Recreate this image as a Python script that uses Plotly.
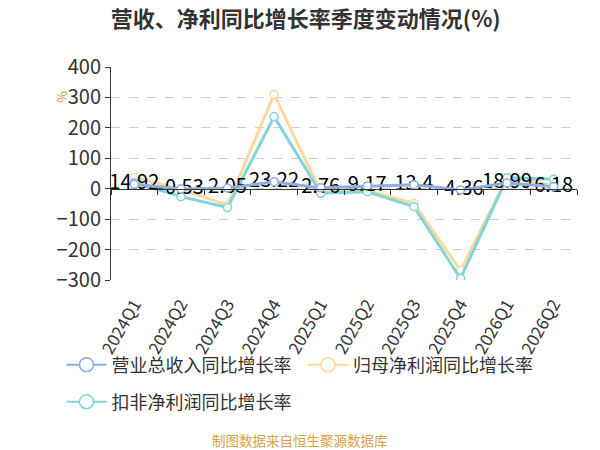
"""Quarterly YoY growth: revenue, net profit, deducted net profit."""

import plotly.graph_objects as go

QUARTERS = ["2024Q1", "2024Q2", "2024Q3", "2024Q4", "2025Q1",
            "2025Q2", "2025Q3", "2025Q4", "2026Q1", "2026Q2"]
REVENUE_YOY = [14.92, -0.53, 2.05, 23.22, 2.76, 9.17, 13.4, -4.36, 18.99, 6.18]
NET_PROFIT_YOY = [37, -1, -54, 310, -10, -6, -48, -269, 36, 12]
DEDUCTED_YOY = [20, -26, -62, 237, -15, -10, -59, -295, 36, 31]

SERIES_NAMES = ["营业总收入同比增长率", "归母净利润同比增长率", "扣非净利润同比增长率"]

Y_MIN, Y_MAX = -300, 400

BLUE = "#8eaedf"
ORANGE = "#fdd89c"
TEAL = "#7fd6d8"
FONT = "Noto Sans CJK SC"

# the page body has an 8px margin, so the figure is drawn 8px smaller
FIG_W, FIG_H = 592, 442


def line_trace(y, color, xaxis="x"):
    return go.Scatter(
        x=QUARTERS,
        y=y,
        mode="lines+markers",
        xaxis=xaxis,
        showlegend=False,
        line=dict(color=color, width=3),
        marker=dict(symbol="circle", size=8, color="white",
                    line=dict(color=color, width=1.5)),
    )


def legend_trace(name, color, legend):
    # legend-only entry with a larger open circle, like the original legend icon
    return go.Scatter(
        x=[None],
        y=[None],
        name=name,
        legend=legend,
        mode="lines+markers",
        line=dict(color=color, width=2),
        marker=dict(symbol="circle", size=14, color="white",
                    line=dict(color=color, width=1.5)),
    )


fig = go.Figure()
fig.add_trace(line_trace(REVENUE_YOY, BLUE, xaxis="x2"))
fig.add_trace(line_trace(NET_PROFIT_YOY, ORANGE))
fig.add_trace(line_trace(DEDUCTED_YOY, TEAL))
# value labels on the revenue series, drawn last so they sit on top
fig.add_trace(
    go.Scatter(
        x=QUARTERS,
        y=REVENUE_YOY,
        mode="text",
        text=[f"{v:g}" for v in REVENUE_YOY],
        textposition="middle center",
        textfont=dict(family=FONT, size=20, color="#000000"),
        showlegend=False,
        hoverinfo="skip",
    )
)
# one legend box per entry, placed like the two-row legend of the original
fig.add_trace(legend_trace(SERIES_NAMES[0], BLUE, "legend"))
fig.add_trace(legend_trace(SERIES_NAMES[1], ORANGE, "legend2"))
fig.add_trace(legend_trace(SERIES_NAMES[2], TEAL, "legend3"))

legend_style = dict(
    orientation="h",
    xref="container",
    yref="container",
    xanchor="left",
    yanchor="middle",
    font=dict(size=18, color="#333333"),
    itemwidth=40,
    bgcolor="rgba(0,0,0,0)",
)

fig.update_layout(
    width=FIG_W,
    height=FIG_H,
    plot_bgcolor="white",
    paper_bgcolor="white",
    margin=dict(l=103, r=23, t=59, b=170),
    font=dict(family=FONT, color="#333333"),
    title=dict(
        text="<b>营收、净利同比增长率季度变动情况(%)</b>",
        x=0.503,
        xanchor="center",
        y=1 - 4 / FIG_H,
        yanchor="top",
        font=dict(size=22, color="#333333", family=FONT),
    ),
    xaxis=dict(
        type="category",
        showline=False,
        showgrid=False,
        ticks="",
        tickangle=-60,
        tickfont=dict(size=17, color="#333333"),
        ticklabelstandoff=10,
        range=[-0.5, len(QUARTERS) - 0.5],
        automargin=False,
    ),
    xaxis2=dict(
        type="category",
        matches="x",
        overlaying="x",
        anchor="free",
        position=(0 - Y_MIN) / (Y_MAX - Y_MIN),
        showline=True,
        linecolor="#333333",
        linewidth=1,
        ticks="outside",
        ticklen=5,
        tickcolor="#333333",
        tickson="boundaries",
        showticklabels=False,
        showgrid=False,
    ),
    yaxis=dict(
        range=[Y_MIN, Y_MAX],
        dtick=100,
        showline=True,
        linecolor="#333333",
        ticks="outside",
        ticklen=5,
        tickcolor="#333333",
        tickfont=dict(size=20, color="#333333"),
        gridcolor="#cccccc",
        griddash="dash",
        zeroline=False,
        automargin=False,
    ),
    legend=dict(legend_style, x=53.5 / FIG_W, y=1 - 357 / FIG_H),
    legend2=dict(legend_style, x=295 / FIG_W, y=1 - 357 / FIG_H),
    legend3=dict(legend_style, x=53.5 / FIG_W, y=1 - 394 / FIG_H),
    annotations=[
        dict(
            text="%",
            xref="paper",
            yref="paper",
            x=-0.105,
            y=0.86,
            xanchor="center",
            yanchor="middle",
            showarrow=False,
            textangle=-90,
            font=dict(size=13, color="#d08a3a"),
        ),
        dict(
            text="制图数据来自恒生聚源数据库",
            xref="paper",
            yref="paper",
            x=0.406,
            y=-0.751,
            xanchor="center",
            yanchor="middle",
            showarrow=False,
            font=dict(size=13.5, color="#d4a447"),
        ),
    ],
)

fig.write_html("out.html")
